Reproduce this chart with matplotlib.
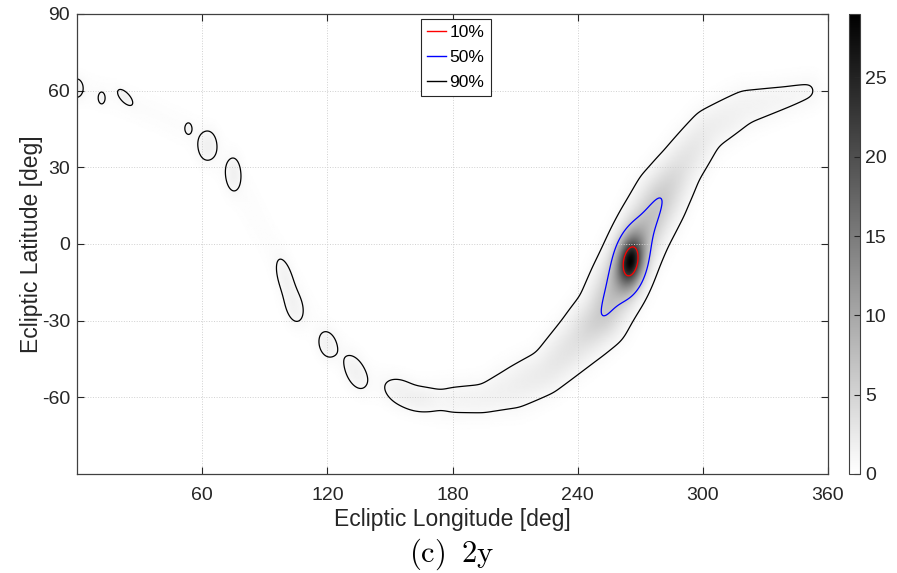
import numpy as np
import matplotlib
matplotlib.use('Agg')
import matplotlib.pyplot as plt
from matplotlib.lines import Line2D

plt.rcParams['font.family'] = ['Liberation Sans', 'DejaVu Sans']
plt.rcParams['axes.unicode_minus'] = False
plt.rcParams['mathtext.fontset'] = 'cm'

# ridge of the sky-position density (centre line, peak value, width in deg)
ridge_lon = [-3, 20, 40, 55, 66, 76, 86, 96, 106, 116, 127, 138, 150, 162,
             172, 180, 195, 210, 225, 240, 252, 259, 265, 272, 280, 290, 302, 320, 340, 351]
ridge_lat = [62, 57, 50, 44, 36, 25, 10, -6, -21, -33, -43, -51, -56, -60,
             -61, -61, -60.5, -56, -50, -38, -28, -16, -6, 6, 18, 31, 44.5, 53.5, 57.5, 60]
ridge_amp = [0.4, 0.4, 0.4, 0.4, 0.4, 0.4, 0.35, 0.3, 0.3, 0.25, 0.25, 0.25, 0.3, 0.45,
             0.95, 1.3, 1.5, 1.9, 2.5, 3.6, 6.3, 8.0, 9.0, 8.0, 6.3, 3.5, 2.2, 1.5, 1.2, 1.0]
ridge_sig = [4, 4, 4, 4, 4, 4, 4, 4, 4, 4, 4, 4, 4, 4.5,
             5.0, 5.0, 4.9, 6.1, 5.7, 6.3, 6.3, 6.2, 6.0, 6.0, 6.2, 5.7, 5.6, 5.8, 4.7, 4.5]

# isolated lobes along the faint tail
lobe_lon = [-0.5, 11.8, 23, 53.4, 62.5, 75, 99.5, 104, 120, 133.5, 155, 165]
lobe_lat = [61, 57, 57.5, 45.2, 38.5, 27.5, -13, -25, -39.5, -50.5, -58, -61]
lobe_amp = [1.3, 1.2, 1.3, 1.2, 1.3, 1.3, 1.15, 1.15, 1.25, 1.3, 1.1, 0.8]
lobe_smaj = [3.1, 1.75, 3.1, 1.65, 4.6, 5.0, 6.0, 5.5, 4.3, 6.0, 6.5, 5.0]
lobe_smin = [2.4, 1.2, 1.4, 1.2, 3.3, 2.7, 2.8, 3.4, 3.4, 3.6, 4.2, 3.5]
lobe_ang = [90, 90, -40, 90, 80, 88, -72, -72, -70, -58, -20, 0]

# main peak
peak_lon = [265.5]
peak_lat = [-7]
peak_amp = [20.5]
peak_smaj = [6.8]
peak_smin = [4.1]
peak_ang = [80]

levels = [0.8, 6, 22]          # 90%, 50%, 10% credible contours
level_labels = ['10%', '50%', '90%']
level_colors = ['r', 'b', 'k']

lon = np.linspace(0, 360, 721)
lat = np.linspace(-90, 90, 361)
LON, LAT = np.meshgrid(lon, lat)


def ridgeField(rx, ry, ra, rs):
	field = np.zeros_like(LON)
	for i in range(len(rx) - 1):
		dx = rx[i+1] - rx[i]
		dy = ry[i+1] - ry[i]
		t = ((LON - rx[i])*dx + (LAT - ry[i])*dy) / (dx*dx + dy*dy)
		t = np.clip(t, 0, 1)
		d2 = (LON - rx[i] - t*dx)**2 + (LAT - ry[i] - t*dy)**2
		a = ra[i] + t*(ra[i+1] - ra[i])
		s = rs[i] + t*(rs[i+1] - rs[i])
		field = np.maximum(field, a*np.exp(-d2/(2*s*s)))
	return field


def smooth(field, sig_cells):
	k = np.arange(-3*sig_cells, 3*sig_cells + 1)
	kern = np.exp(-0.5*(k/sig_cells)**2)
	kern /= kern.sum()
	field = np.apply_along_axis(lambda r: np.convolve(r, kern, mode='same'), 1, field)
	field = np.apply_along_axis(lambda c: np.convolve(c, kern, mode='same'), 0, field)
	return field


def blobField(bx, by, ba, bmaj, bmin, bang):
	field = np.zeros_like(LON)
	for i in range(len(bx)):
		th = np.deg2rad(bang[i])
		u = (LON - bx[i])*np.cos(th) + (LAT - by[i])*np.sin(th)
		v = -(LON - bx[i])*np.sin(th) + (LAT - by[i])*np.cos(th)
		field += ba[i]*np.exp(-0.5*((u/bmaj[i])**2 + (v/bmin[i])**2))
	return field


density = smooth(ridgeField(ridge_lon, ridge_lat, ridge_amp, ridge_sig), 4)
density += blobField(lobe_lon, lobe_lat, lobe_amp, lobe_smaj, lobe_smin, lobe_ang)
density += blobField(peak_lon, peak_lat, peak_amp, peak_smaj, peak_smin, peak_ang)

fig = plt.figure(figsize=(8.97, 5.73), dpi=100)
ax = fig.add_axes([77/897, 99/573, 751/897, 460/573])
im = ax.imshow(density, origin='lower', extent=[0, 360, -90, 90], cmap='gray_r',
               vmin=0, vmax=29, aspect='auto', interpolation='bilinear')
ax.contour(LON, LAT, density, levels=levels, colors=['k', 'b', 'r'], linewidths=0.9)

ax.set_xlim(0, 360)
ax.set_ylim(-90, 90)
ax.set_xticks([60, 120, 180, 240, 300, 360])
ax.set_yticks([-60, -30, 0, 30, 60, 90])
ax.grid(True, linestyle=':', color='#d0d0d0', linewidth=0.7)
ax.tick_params(direction='in', top=True, right=True, labelsize=14, colors='#262626', length=5)
ax.tick_params(axis='x', pad=9)
ax.tick_params(axis='y', pad=5)
for sp in ax.spines.values():
	sp.set_color('#404040')
	sp.set_linewidth(0.9)
ax.set_xlabel('Ecliptic Longitude [deg]', fontsize=16.5, color='#262626', labelpad=3)
ax.set_ylabel('Ecliptic Latitude [deg]', fontsize=16.5, color='#262626', labelpad=-1)

handles = [Line2D([], [], color=c, lw=1) for c in level_colors]
leg = ax.legend(handles, level_labels, loc='upper left', bbox_to_anchor=(0.458, 0.989),
                borderaxespad=0, fontsize=12.5, handlelength=1.1, handletextpad=0.2,
                labelspacing=0.55, borderpad=0.35, fancybox=False, framealpha=1)
leg.get_frame().set_edgecolor('#262626')
leg.get_frame().set_linewidth(0.8)

cax = fig.add_axes([849/897, 99/573, 11/897, 460/573])
cb = fig.colorbar(im, cax=cax, ticks=[0, 5, 10, 15, 20, 25])
cb.ax.tick_params(direction='in', labelsize=14, colors='#262626', length=4)
cb.outline.set_edgecolor('#404040')

fig.text(0.503, 0.033, r'$\mathrm{(c)}\;\;\mathrm{2y}$', ha='center', va='center', fontsize=22)

fig.savefig('out.png', dpi=100)
